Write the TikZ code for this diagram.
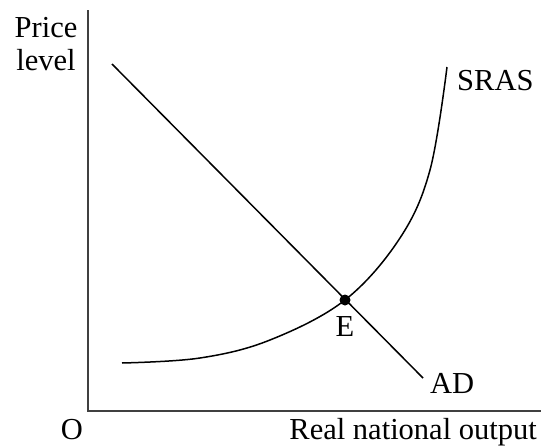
\documentclass[tikz,border=0pt]{standalone}
\usepackage{fontspec}
\setmainfont{Liberation Serif}
\usetikzlibrary{positioning}
\begin{document}
\begin{tikzpicture}[x=1pt, y=-1pt,
  axis/.style={draw=black!75, line width=1.8pt},
  curve/.style={draw=black, line width=1.5pt, line join=round},
  lbl/.style={font=\fontsize{30.5}{33}\selectfont, inner sep=0pt},
  eqdot/.style={circle, fill=black, inner sep=0pt, minimum size=11pt}
]
\useasboundingbox (0,0) rectangle (541,447);

% axes
\coordinate (org) at (88,411);
\coordinate (ytop) at (88,10);
\coordinate (xend) at (541,411);
\draw[axis] (ytop) -- (org) -- (xend);

% aggregate demand
\coordinate (adA) at (112,64);
\coordinate (adB) at (423,378);
\draw[curve] (adA) -- (adB);

% short-run aggregate supply
\draw[curve] plot[smooth, tension=0.6] coordinates
  {(122,363) (200,358) (270,340) (345,300) (400,238) (430,170) (447,67)};

% equilibrium
\node[eqdot] (edot) at (345,300) {};

\node[lbl, anchor=base] (elbl) at (345,336) {E};
\node[lbl, anchor=base west] (adlbl) at (430,393) {AD};
\node[lbl, anchor=base west] (sraslbl) at (457,90) {SRAS};
\node[lbl, align=center, anchor=north] (ylbl) at (46,17) {Price\\level};
\node[lbl, anchor=base] (olbl) at (72,439) {O};
\node[lbl, anchor=base east] (xlbl) at (537,439) {Real national output};

\end{tikzpicture}
\end{document}
